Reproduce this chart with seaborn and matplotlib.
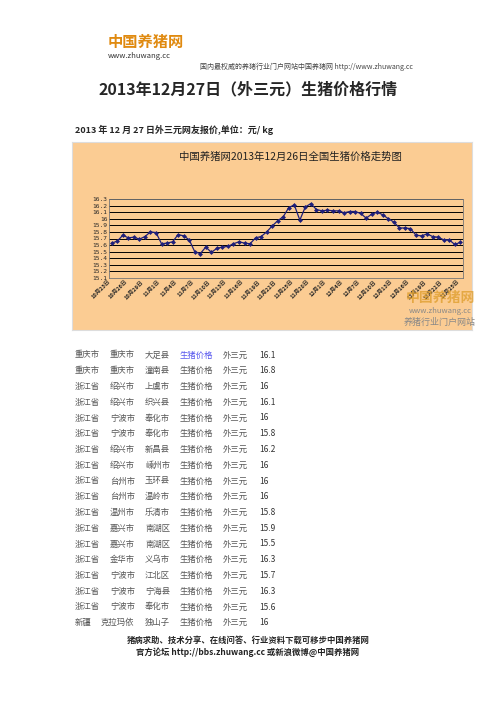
import numpy as np
import pandas as pd
import matplotlib.pyplot as plt
import seaborn as sns

sns.set_style('white')
plt.rcParams['font.family'] = ['Noto Sans CJK SC', 'DejaVu Sans']

# price series, 10/23 .. 12/26
prices = [15.63, 15.66, 15.75, 15.71, 15.72, 15.69, 15.73, 15.80, 15.79, 15.62,
          15.63, 15.65, 15.76, 15.74, 15.68, 15.50, 15.47, 15.57, 15.49, 15.55,
          15.57, 15.58, 15.62, 15.65, 15.63, 15.62, 15.71, 15.73, 15.80, 15.89,
          15.97, 16.03, 16.17, 16.21, 15.98, 16.18, 16.23, 16.14, 16.12, 16.13,
          16.12, 16.12, 16.09, 16.11, 16.11, 16.08, 16.01, 16.07, 16.10, 16.06,
          16.00, 15.95, 15.86, 15.86, 15.85, 15.75, 15.74, 15.77, 15.73, 15.72,
          15.68, 15.68, 15.61, 15.64]
date_labels = ['10月23日', '10月26日', '10月29日', '11月1日', '11月4日', '11月7日',
               '11月10日', '11月13日', '11月16日', '11月19日', '11月22日', '11月25日',
               '11月28日', '12月1日', '12月4日', '12月7日', '12月10日', '12月13日',
               '12月16日', '12月19日', '12月22日', '12月25日']
yticks = [15.1, 15.2, 15.3, 15.4, 15.5, 15.6, 15.7, 15.8, 15.9, 16.0, 16.1, 16.2, 16.3]
ytick_labels = ['15.1', '15.2', '15.3', '15.4', '15.5', '15.6', '15.7', '15.8', '15.9',
                '16', '16.1', '16.2', '16.3']

provinces = ['重庆市', '重庆市', '浙江省', '浙江省', '浙江省', '浙江省', '浙江省', '浙江省', '浙江省',
             '浙江省', '浙江省', '浙江省', '浙江省', '浙江省', '浙江省', '浙江省', '浙江省', '新疆']
cities = ['重庆市', '重庆市', '绍兴市', '绍兴市', '宁波市', '宁波市', '绍兴市', '绍兴市', '台州市',
          '台州市', '温州市', '嘉兴市', '嘉兴市', '金华市', '宁波市', '宁波市', '宁波市', '克拉玛依']
counties = ['大足县', '潼南县', '上虞市', '织兴县', '奉化市', '奉化市', '新昌县', '嵊州市', '玉环县',
            '温岭市', '乐清市', '南湖区', '南湖区', '义乌市', '江北区', '宁海县', '奉化市', '独山子']
quotes = ['16.1', '16.8', '16', '16.1', '16', '15.8', '16.2', '16', '16',
          '16', '15.8', '15.9', '15.5', '16.3', '15.7', '16.3', '15.6', '16']

W, H = 496, 702
fig = plt.figure(figsize=(W / 100, H / 100), dpi=100)

def fx(x): return x / W
def fy(y): return 1 - y / H

# header
fig.text(fx(108), fy(42), '中国养猪网', fontsize=11, color='#e08a10', weight='bold', va='center')
fig.text(fx(108), fy(56), 'www.zhuwang.cc', fontsize=5.5, color='#333333', va='center')
fig.text(fx(200), fy(67), '国内最权威的养猪行业门户网站中国养猪网 http://www.zhuwang.cc',
         fontsize=5, color='#444444', va='center')
fig.text(0.5, fy(89), '2013年12月27日（外三元）生猪价格行情', fontsize=11.5, weight='bold',
         ha='center', va='center')
fig.text(fx(75), fy(130), '2013 年 12 月 27 日外三元网友报价,单位：元/ kg', fontsize=6.5,
         weight='bold', va='center')

# chart background panel
bg = fig.add_axes([fx(72), fy(330), fx(400), (330 - 142) / H])
bg.set_facecolor('#fbcc93')
bg.set_xticks([]); bg.set_yticks([])
for s in bg.spines.values():
    s.set_color('#dddddd')
fig.text(fx(290), fy(157), '中国养猪网2013年12月26日全国生猪价格走势图', fontsize=7.5,
         ha='center', va='center', color='#222222')

ax = fig.add_axes([fx(109), fy(278), fx(354), (278 - 199) / H])
ax.set_facecolor('#fbcc93')
df = pd.DataFrame({'idx': np.arange(len(prices)), 'price': prices})
sns.lineplot(data=df, x='idx', y='price', ax=ax, color='#1f1f7a', lw=0.9,
             marker='D', markersize=2.5, markeredgewidth=0)
ax.set_ylim(15.1, 16.3)
ax.set_xlim(-0.5, len(prices) - 0.5)
ax.set_yticks(yticks)
ax.set_yticklabels(ytick_labels, fontsize=4.5, family='DejaVu Sans Mono')
ax.set_xticks(np.arange(0, 3 * len(date_labels), 3))
ax.set_xticklabels(date_labels, rotation=45, ha='right', fontsize=4, weight='bold')
ax.set_xticks(np.arange(len(prices)), minor=True)
ax.tick_params(axis='x', which='both', direction='in', length=2, pad=1)
ax.tick_params(axis='y', length=0, pad=1)
ax.grid(axis='y', color='black', lw=0.7)
ax.set_xlabel(''); ax.set_ylabel('')
for s in ax.spines.values():
    s.set_color('#777777'); s.set_linewidth(0.6)

fig.text(fx(440), fy(298), '中国养猪网', fontsize=10, color='#e0a030', weight='bold',
         ha='center', va='center', alpha=0.8)
fig.text(fx(440), fy(311), 'www.zhuwang.cc', fontsize=5.5, color='#888888', ha='center', va='center')
fig.text(fx(440), fy(322), '养猪行业门户网站', fontsize=6.5, color='#888888', ha='center', va='center')

# table
col_x = [75, 110, 145, 180, 223, 259]
for i in range(len(quotes)):
    y = fy(355 + i * 15.75)
    row = [provinces[i], cities[i], counties[i], '生猪价格', '外三元', quotes[i]]
    for j, (x, t) in enumerate(zip(col_x, row)):
        c = '#5555ee' if (i == 0 and j == 3) else '#555555'
        if j == 5:
            c = '#333333'
        xx = x - 9 if (j == 1 and i == len(quotes) - 1) else x
        fig.text(fx(xx), y, t, fontsize=6, color=c, va='center')

# footer
fig.text(0.5, fy(640), '猪病求助、技术分享、在线问答、行业资料下载可移步中国养猪网', fontsize=6,
         weight='bold', ha='center', va='center')
fig.text(0.5, fy(652), '官方论坛 http://bbs.zhuwang.cc 或新浪微博@中国养猪网', fontsize=6,
         weight='bold', ha='center', va='center', color='#222222')

fig.savefig('out.png', dpi=100)
